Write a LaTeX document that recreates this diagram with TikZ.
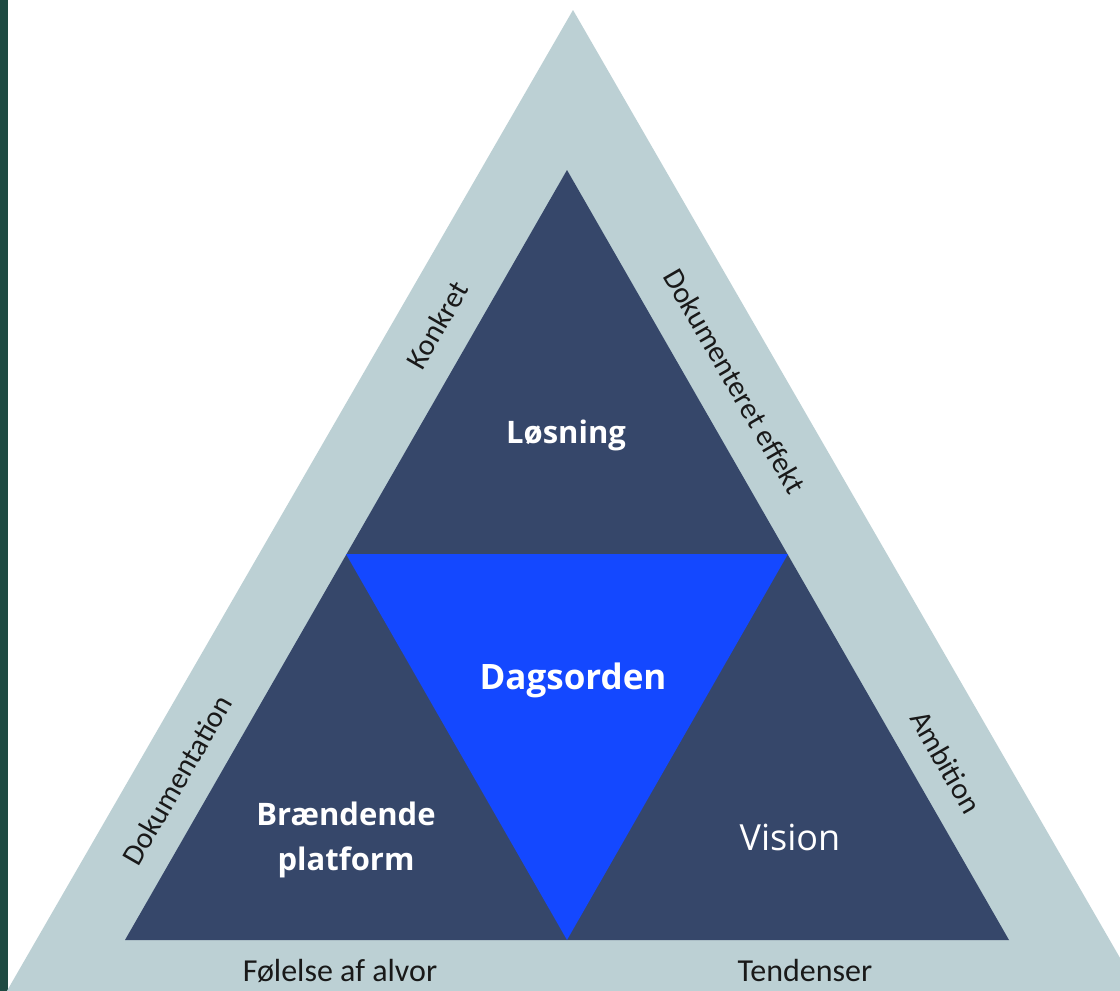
\documentclass[tikz,border=0pt]{standalone}
\usepackage{fontspec}
\setmainfont{Carlito}
\newfontfamily\osans{Open Sans}
\definecolor{band}{HTML}{BCD0D4}
\definecolor{navy}{HTML}{36476A}
\definecolor{brightblue}{HTML}{1448FF}
\definecolor{strip}{HTML}{1E4A42}
\begin{document}
\begin{tikzpicture}[x=1pt,y=-1pt,
  sidelabel/.style={inner sep=0pt, text=black!90, font=\fontsize{30}{32}\selectfont},
  baselabel/.style={inner sep=0pt, text=black!90, font=\fontsize{32}{34}\selectfont},
  boldlabel/.style={inner sep=0pt, text=white, align=center, font=\osans\bfseries\fontsize{31}{45}\selectfont},
  biglabel/.style={inner sep=0pt, text=white, font=\osans\bfseries\fontsize{35}{40}\selectfont},
  plainlabel/.style={inner sep=0pt, text=white, font=\osans\fontsize{36}{40}\selectfont}]
\useasboundingbox (0,0) rectangle (1120,991);
\clip (0,0) rectangle (1120,991);
\fill[white] (0,0) rectangle (1120,991);
\fill[strip] (0,0) rectangle (8,991);
\fill[band] (573,10) -- (1202,1100) -- (-56,1100) -- cycle;
\fill[navy] (567,170) -- (1009,940) -- (125,940) -- cycle;
\fill[brightblue] (346,554) -- (788,554) -- (567,940) -- cycle;
\node[boldlabel] (losning) at (566,435) {Løsning};
\node[biglabel] (dagsorden) at (573,680) {Dagsorden};
\node[boldlabel] (braendende) at (346,840) {Brændende\\platform};
\node[plainlabel] (vision) at (790,837) {Vision};
\node[sidelabel, rotate=60] (konkret) at (437,325) {Konkret};
\node[sidelabel, rotate=-60] (doceffekt) at (735,381) {Dokumenteret effekt};
\node[sidelabel, rotate=60] (dokumentation) at (177,780) {Dokumentation};
\node[sidelabel, rotate=-60] (ambition) at (946,762) {Ambition};
\node[baselabel] (folelse) at (340,971) {Følelse af alvor};
\node[baselabel] (tendenser) at (805,970) {Tendenser};
\end{tikzpicture}
\end{document}
